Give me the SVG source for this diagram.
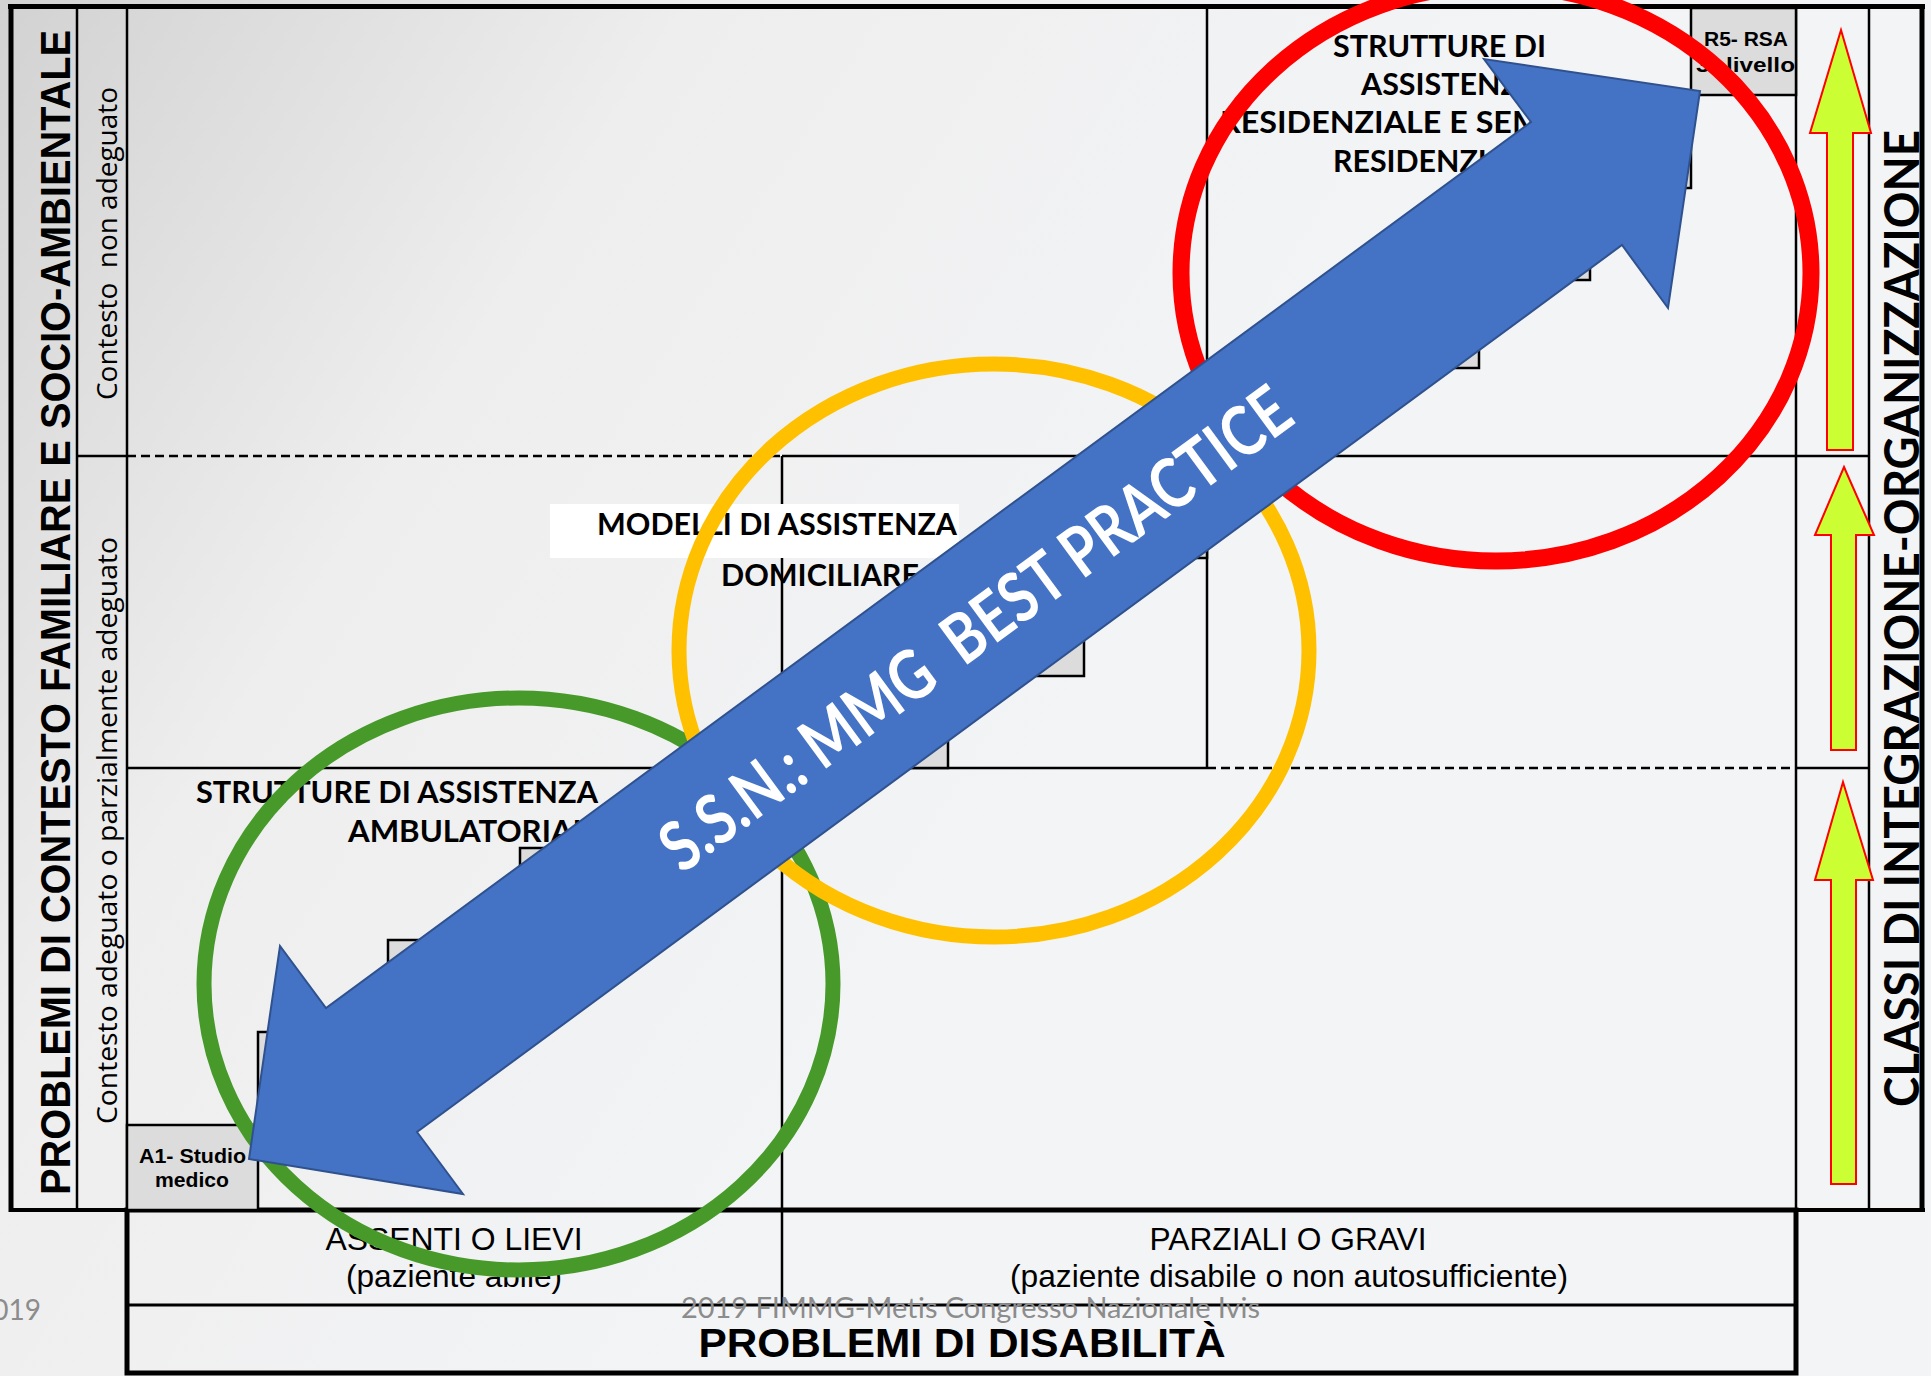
<svg xmlns="http://www.w3.org/2000/svg" width="1931" height="1376" viewBox="0 0 1931 1376">
<defs>
<linearGradient id="bg" gradientUnits="userSpaceOnUse" x1="0" y1="0" x2="1100" y2="700">
<stop offset="0" stop-color="#d2d2d2"/>
<stop offset="0.45" stop-color="#eeeeee"/>
<stop offset="1" stop-color="#f3f4f6"/>
</linearGradient>
<style>
.ln{stroke:#000;stroke-width:2.5;fill:none}
.thick{stroke:#000;stroke-width:5;fill:none}
.dash{stroke:#000;stroke-width:2.5;stroke-dasharray:9 5;fill:none}
.box{fill:#dcdcdc;stroke:#000;stroke-width:2.5}
.lbl{font-family:Lato,'Open Sans',sans-serif;font-weight:700;font-size:31px;fill:#000}
.ax{font-family:'Liberation Sans',Arial,sans-serif;font-size:31.5px;fill:#000}
.axb{font-family:'Liberation Sans',Arial,sans-serif;font-weight:700;fill:#000}
.boxt{font-family:'Liberation Sans',Arial,sans-serif;font-weight:700;font-size:21px;fill:#000}
.ctx{font-family:'Open Sans',sans-serif;font-size:28px;fill:#000}
.ring{fill:none}
.up{fill:#ccff33;stroke:#ff0000;stroke-width:2}
.wm{font-family:Lato,'Open Sans',sans-serif;font-size:28px;fill:#8c8c8c}
</style>
</defs>

<rect id="background" x="0" y="0" width="1931" height="1376" fill="url(#bg)"/>

<g id="grid">
  <line class="thick" x1="8" y1="6.5" x2="1925" y2="6.5"/>
  <line class="thick" x1="11" y1="5" x2="11" y2="1212"/>
  <line class="thick" x1="1922" y1="5" x2="1922" y2="1212"/>
  <line x1="9" y1="1210" x2="1925" y2="1210" stroke="#000" stroke-width="4"/>
  <line class="ln" x1="77" y1="8" x2="77" y2="1210"/>
  <line class="ln" x1="127" y1="8" x2="127" y2="1210"/>
  <line class="ln" x1="77" y1="456" x2="127" y2="456"/>
  <line class="ln" x1="1796" y1="8" x2="1796" y2="1210"/>
  <line class="ln" x1="1869" y1="8" x2="1869" y2="1210"/>
  <line class="dash" x1="127" y1="456" x2="782" y2="456"/>
  <line class="ln" x1="782" y1="456" x2="1869" y2="456"/>
  <line class="ln" x1="127" y1="768" x2="1207" y2="768"/>
  <line class="dash" x1="1207" y1="768" x2="1796" y2="768"/>
  <line class="ln" x1="1796" y1="768" x2="1869" y2="768"/>
  <line class="ln" x1="782" y1="456" x2="782" y2="1305"/>
  <line class="ln" x1="1207" y1="8" x2="1207" y2="768"/>
  <rect class="thick" x="127" y="1210" width="1669" height="163"/>
  <line x1="127" y1="1305" x2="1796" y2="1305" stroke="#000" stroke-width="3"/>
</g>

<g id="axis-left">
  <text class="axb" font-size="43" text-anchor="middle" textLength="1165" lengthAdjust="spacingAndGlyphs" transform="translate(70,612.5) rotate(-90)">PROBLEMI DI CONTESTO FAMILIARE E SOCIO-AMBIENTALE</text>
  <text class="ctx" text-anchor="middle" textLength="313" lengthAdjust="spacingAndGlyphs" style="white-space:pre" transform="translate(117,243.5) rotate(-90)">Contesto  non adeguato</text>
  <text class="ctx" text-anchor="middle" textLength="587" lengthAdjust="spacingAndGlyphs" transform="translate(117,830.5) rotate(-90)">Contesto adeguato o parzialmente adeguato</text>
</g>

<g id="zone-ambulatoriale">
  <rect class="box" x="520" y="848" width="131" height="92"/>
  <rect class="box" x="388" y="940" width="132" height="92"/>
  <rect class="box" x="258" y="1032" width="130" height="93"/>
  <rect class="box" x="127" y="1125" width="131" height="85"/>
  <text class="boxt" x="192.5" y="1163" text-anchor="middle" textLength="107" lengthAdjust="spacingAndGlyphs">A1- Studio</text>
  <text class="boxt" x="192" y="1187" text-anchor="middle" textLength="74" lengthAdjust="spacingAndGlyphs">medico</text>
  <text class="lbl" x="598" y="803" text-anchor="end" textLength="402" lengthAdjust="spacingAndGlyphs">STRUTTURE DI ASSISTENZA</text>
  <text class="lbl" x="598" y="842" text-anchor="end" textLength="250" lengthAdjust="spacingAndGlyphs">AMBULATORIALI</text>
</g>

<g id="zone-domiciliare">
  <rect class="box" x="812" y="676" width="136" height="92"/>
  <rect class="box" x="948" y="584" width="136" height="92"/>
  <rect class="box" x="1084" y="466" width="123" height="92"/>
  <rect x="550" y="504" width="409" height="54" fill="#ffffff"/>
  <text class="lbl" x="597" y="535" textLength="360" lengthAdjust="spacingAndGlyphs">MODELLI DI ASSISTENZA</text>
  <text class="lbl" x="721" y="586" textLength="198" lengthAdjust="spacingAndGlyphs">DOMICILIARE</text>
</g>

<g id="zone-residenziale">
  <rect class="box" x="1374" y="278" width="105" height="90"/>
  <rect class="box" x="1485" y="188" width="105" height="92"/>
  <rect class="box" x="1586" y="95" width="105" height="93"/>
  <rect class="box" x="1691" y="8" width="105" height="87"/>
  <text class="boxt" x="1746" y="46" text-anchor="middle" textLength="84" lengthAdjust="spacingAndGlyphs">R5- RSA</text>
  <text class="boxt" x="1696" y="72" textLength="99" lengthAdjust="spacingAndGlyphs">3° livello</text>
  <text class="lbl" x="1333" y="57" textLength="213" lengthAdjust="spacingAndGlyphs">STRUTTURE DI</text>
  <text class="lbl" x="1361" y="95" textLength="179" lengthAdjust="spacingAndGlyphs">ASSISTENZA</text>
  <text class="lbl" x="1220" y="133" textLength="332" lengthAdjust="spacingAndGlyphs">RESIDENZIALE E SEMI</text>
  <text class="lbl" x="1333" y="172" textLength="208" lengthAdjust="spacingAndGlyphs">RESIDENZIALE</text>
</g>

<g id="axis-bottom">
  <text class="ax" x="454" y="1250" text-anchor="middle" textLength="257" lengthAdjust="spacingAndGlyphs">ASSENTI O LIEVI</text>
  <text class="ax" x="454" y="1287" text-anchor="middle" textLength="216" lengthAdjust="spacingAndGlyphs">(paziente abile)</text>
  <text class="ax" x="1288" y="1250" text-anchor="middle" textLength="277" lengthAdjust="spacingAndGlyphs">PARZIALI O GRAVI</text>
  <text class="ax" x="1289" y="1287" text-anchor="middle" textLength="558" lengthAdjust="spacingAndGlyphs">(paziente disabile o non autosufficiente)</text>
  <text class="axb" font-size="41" x="962" y="1357" text-anchor="middle" textLength="527" lengthAdjust="spacingAndGlyphs">PROBLEMI DI DISABILITÀ</text>
</g>

<g id="axis-right">
  <polygon class="up" points="1841,30 1871,133 1853,133 1853,450 1827,450 1827,133 1810,133"/>
  <polygon class="up" points="1844,467 1874,535 1856,535 1856,750 1831,750 1831,535 1815,535"/>
  <polygon class="up" points="1843,782 1873,880 1856,880 1856,1184 1831,1184 1831,880 1815,880"/>
  <text font-family="Lato, 'Open Sans', sans-serif" font-weight="700" font-size="48" fill="#000" text-anchor="middle" textLength="977" lengthAdjust="spacingAndGlyphs" transform="translate(1919,618.5) rotate(-90)">CLASSI DI INTEGRAZIONE-ORGANIZZAZIONE</text>
</g>

<g id="watermark">
  <text class="wm" x="681" y="1318" textLength="579" lengthAdjust="spacingAndGlyphs">2019 FIMMG-Metis Congresso Nazionale Ivis</text>
  <text class="wm" x="41" y="1320" text-anchor="end">2019</text>
</g>

<g id="circles">
  <ellipse id="ring-green" class="ring" cx="518.5" cy="984" rx="314.5" ry="286" stroke="#479a2a" stroke-width="15"/>
  <ellipse id="ring-yellow" class="ring" cx="994" cy="650.5" rx="315" ry="286.5" stroke="#ffc000" stroke-width="15"/>
  <ellipse id="ring-red" class="ring" cx="1496" cy="273" rx="315" ry="288" stroke="#ff0000" stroke-width="17"/>
</g>

<g id="connectors">
  <g id="ssn-arrow">
    <polygon points="249,1159 280,946 326,1008 1531,122 1484,59 1700,91 1668,308 1622,245 417,1132 463,1194" fill="#4472c4" stroke="#2f528f" stroke-width="2" stroke-linejoin="miter"/>
    <text font-family="Lato, 'Open Sans', sans-serif" font-weight="700" font-size="69" fill="#ffffff" text-anchor="middle" textLength="764" lengthAdjust="spacingAndGlyphs" style="white-space:pre" transform="translate(975,628) rotate(-36.33)" y="25">S.S.N.: MMG  BEST PRACTICE</text>
  </g>
</g>
</svg>
